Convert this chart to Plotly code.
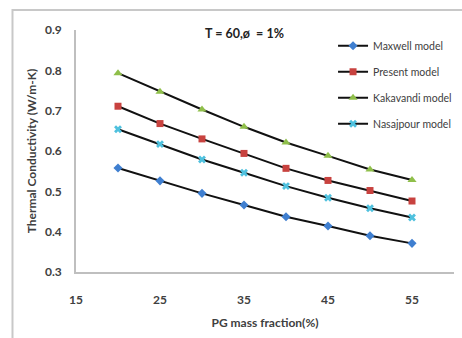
import plotly.graph_objects as go

# PG mass fraction (%)
pg_fraction = [20, 25, 30, 35, 40, 45, 50, 55]

# Thermal conductivity (W/m-K) for each model
maxwell = [0.558, 0.526, 0.495, 0.466, 0.437, 0.414, 0.390, 0.371]
present = [0.711, 0.668, 0.630, 0.594, 0.557, 0.527, 0.502, 0.476]
kakavandi = [0.793, 0.747, 0.703, 0.660, 0.621, 0.588, 0.554, 0.528]
nasajpour = [0.654, 0.617, 0.579, 0.546, 0.513, 0.484, 0.458, 0.435]

x_ticks = [15, 25, 35, 45, 55]
y_ticks = [0.3, 0.4, 0.5, 0.6, 0.7, 0.8, 0.9]

series = [
    ("Maxwell model", maxwell, "diamond", "#3f7fd0", 7),
    ("Present model", present, "square", "#c8423f", 7),
    ("Kakavandi model", kakavandi, "triangle-up", "#8fbf4a", 8),
    ("Nasajpour model", nasajpour, "x", "#4fc1de", 7),
]

FONT = "Lato"

fig = go.Figure()
for i, (name, vals, sym, col, size) in enumerate(series):
    fig.add_trace(go.Scatter(
        x=pg_fraction, y=vals, name=name, mode="lines+markers",
        line=dict(color="#111111", width=2),
        marker=dict(symbol=sym, color=col, size=size, line=dict(width=0)),
        legendgroup=f"g{i}",
    ))

fig.update_layout(
    width=462, height=338,
    margin=dict(l=76, r=8, t=30, b=66, autoexpand=False),
    paper_bgcolor="white", plot_bgcolor="white",
    font=dict(family=FONT, color="#404040", size=12),
    showlegend=True,
    legend=dict(
        x=0.68, y=0.995, xanchor="left", yanchor="top",
        bgcolor="rgba(0,0,0,0)", font=dict(size=10.5, color="#404040"),
        tracegroupgap=7, itemwidth=30,
    ),
    xaxis=dict(
        range=[15, 60], tickvals=x_ticks, showgrid=False, zeroline=False,
        showline=True, linecolor="#bfbfbf", linewidth=1.5,
        ticks="outside", ticklen=16, tickcolor="rgba(0,0,0,0)",
        tickfont=dict(size=12, family=FONT, weight="bold"),
        title=dict(text="PG mass fraction(%)", standoff=12,
                   font=dict(size=12, family=FONT, weight="bold")),
    ),
    yaxis=dict(
        range=[0.3, 0.9], tickvals=y_ticks, tickformat=".1f",
        showgrid=False, zeroline=False,
        showline=True, linecolor="#bfbfbf", linewidth=1.5,
        ticks="outside", ticklen=10, tickcolor="rgba(0,0,0,0)",
        tickfont=dict(size=12, family=FONT, weight="bold"),
        title=dict(text="Thermal Conductivity (W/m-K)", standoff=6,
                   font=dict(size=12, family=FONT, weight="bold")),
    ),
    annotations=[dict(
        text="T = 60,ø  = 1%", x=0.445, y=0.985, xref="paper", yref="paper",
        showarrow=False, xanchor="center", yanchor="middle",
        font=dict(size=12.5, family=FONT, weight="bold", color="#222222"),
    )],
    shapes=[dict(
        type="rect", xref="paper", yref="paper",
        x0=-0.168, x1=1.2, y0=-0.5, y1=1.083,
        line=dict(color="#c8c8c8", width=2), layer="below",
    )],
)

fig.write_html("out.html")
